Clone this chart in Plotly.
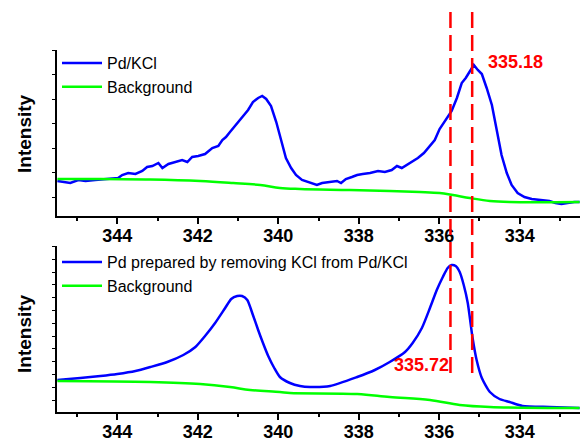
import plotly.graph_objects as go

# ---- data (binding energy in eV, intensity in arbitrary units) ----
be_top = [345.49, 345.29, 345.17, 344.97, 344.79, 344.55, 344.30, 344.12, 343.98, 343.88,
          343.73, 343.55, 343.38, 343.26, 343.13, 342.98, 342.88, 342.73, 342.56, 342.39,
          342.26, 342.14, 341.99, 341.82, 341.64, 341.49, 341.39, 341.30, 341.20, 341.05,
          340.90, 340.75, 340.63, 340.50, 340.40, 340.30, 340.18, 340.05, 339.93, 339.81,
          339.68, 339.56, 339.41, 339.21, 339.04, 338.91, 338.71, 338.54, 338.44, 338.32,
          338.17, 338.04, 337.90, 337.72, 337.52, 337.35, 337.18, 337.05, 336.93, 336.80,
          336.65, 336.53, 336.38, 336.23, 336.11, 335.99, 335.84, 335.69, 335.56, 335.44,
          335.34, 335.24, 335.14, 335.04, 334.94, 334.82, 334.69, 334.57, 334.45, 334.32,
          334.20, 334.05, 333.88, 333.70, 333.50, 333.26, 333.11, 332.96, 332.81, 332.64, 332.51]
int_top = [35, 34, 33, 36, 35, 36, 37, 38, 38, 41,
           43, 42, 45, 49, 50, 53, 48, 52, 54, 56,
           54, 59, 60, 62, 68, 70, 76, 79, 84, 91,
           99, 106, 114, 118, 120, 117, 110, 94, 76, 58,
           48, 41, 36, 33, 31, 33, 34, 35, 33, 37,
           39, 41, 42, 43, 45, 44, 46, 50, 48, 51,
           55, 58, 63, 70, 76, 87, 96, 105, 118, 133,
           138, 145, 151, 146, 142, 128, 111, 86, 61, 43,
           31, 23, 19, 17, 16, 15, 13, 12, 13, 14, 14]

be_top_bg = [345.49, 344.42, 343.18, 341.94, 341.12, 340.45, 339.96, 339.46, 338.22,
             337.23, 336.48, 335.99, 335.66, 335.24, 334.74, 334.25, 332.51]
int_top_bg = [37, 37, 36.5, 35, 33, 31, 28, 27, 26, 25, 24, 23, 21, 18, 15, 14, 14]

be_bot = [345.49, 344.92, 344.42, 344.00, 343.55, 343.18, 342.76, 342.36, 342.06, 341.82,
          341.57, 341.32, 341.17, 341.02, 340.90, 340.77, 340.63, 340.50, 340.38, 340.25,
          340.10, 339.96, 339.71, 339.46, 339.21, 338.71, 338.04, 337.60, 337.23, 336.85,
          336.66, 336.43, 336.23, 336.06, 335.91, 335.79, 335.69, 335.59, 335.49, 335.39,
          335.29, 335.17, 335.07, 334.94, 334.74, 334.50, 334.25, 333.93, 333.26, 332.51]
int_bot = [32, 34, 36, 38, 41, 45, 50, 57, 65, 76,
           89, 104, 113, 116, 116, 112, 97, 82, 69, 56,
           44, 35, 29, 26, 25, 26, 35, 42, 50, 60,
           69, 84, 104, 122, 135, 144, 147, 146, 140, 127,
           109, 74, 52, 34, 20, 13, 10, 6, 5, 4]

be_bot_bg = [345.49, 343.18, 341.94, 341.20, 340.70, 339.96, 339.71, 338.04, 337.23,
             336.23, 335.49, 334.74, 332.51]
int_bot_bg = [31, 30, 28, 25, 22, 20, 19, 18, 15, 12, 7, 5, 4]

x_ticks = [344, 342, 340, 338, 336, 334]
peak_top = 335.18
peak_bot = 335.72
peak_labels = ["335.18", "335.72"]
legend_top = ["Pd/KCl", "Background"]
legend_bot = ["Pd prepared by removing KCl from Pd/KCl", "Background"]

# ---- layout geometry ----
W, H = 581, 441
ML, MR, MT, MB = 57, 1, 50, 29
PH = H - MT - MB  # 362


def py2paper(py):
    return (H - MB - py) / PH


BLUE = "#0000FF"
GREEN = "#00FF00"
RED = "#FF0000"
FONT = "Arial, Liberation Sans, sans-serif"

fig = go.Figure()
fig.add_trace(go.Scatter(x=be_top, y=int_top, mode="lines", name=legend_top[0],
                         line=dict(color=BLUE, width=2.5), xaxis="x", yaxis="y", legend="legend"))
fig.add_trace(go.Scatter(x=be_top_bg, y=int_top_bg, mode="lines", name=legend_top[1],
                         line=dict(color=GREEN, width=2.5, shape="spline"), xaxis="x", yaxis="y", legend="legend"))
fig.add_trace(go.Scatter(x=be_bot, y=int_bot, mode="lines", name=legend_bot[0],
                         line=dict(color=BLUE, width=2.5, shape="spline", smoothing=0.6),
                         xaxis="x2", yaxis="y2", legend="legend2"))
fig.add_trace(go.Scatter(x=be_bot_bg, y=int_bot_bg, mode="lines", name=legend_bot[1],
                         line=dict(color=GREEN, width=2.5, shape="spline"), xaxis="x2", yaxis="y2", legend="legend2"))

xcommon = dict(range=[345.5, 332.5], tickvals=x_ticks, ticks="outside", ticklen=6, tickwidth=1.5,
               tickcolor="black", showline=True, linewidth=2, linecolor="black", showgrid=False,
               zeroline=False, automargin=False, ticklabelstandoff=-4,
               tickfont=dict(family=FONT, size=18, color="black", weight="bold"),
               minor=dict(dtick=1, tick0=333, ticks="outside", ticklen=3, tickwidth=1.5, tickcolor="black"))
ycommon = dict(range=[0, 166], ticks="outside", ticklen=3, tickwidth=1, tickcolor="black",
               showline=True, linewidth=2, linecolor="black", showgrid=False, zeroline=False,
               showticklabels=False, automargin=False)

fig.update_layout(
    width=W, height=H,
    margin=dict(l=ML, r=MR, t=MT, b=MB),
    paper_bgcolor="white", plot_bgcolor="white",
    xaxis=dict(domain=[0, 1], anchor="y", **xcommon),
    yaxis=dict(domain=[py2paper(216), 1], anchor="x", tick0=19, dtick=24.5, **ycommon),
    xaxis2=dict(domain=[0, 1], anchor="y2", **xcommon),
    yaxis2=dict(domain=[0, py2paper(246)], anchor="x2", tick0=12, dtick=12.78, **ycommon),
    legend=dict(x=0.0, y=py2paper(46), xanchor="left", yanchor="top", bgcolor="rgba(0,0,0,0)",
                font=dict(family=FONT, size=16, color="black"), itemwidth=40,
                tracegroupgap=0),
    legend2=dict(x=0.0, y=py2paper(245), xanchor="left", yanchor="top", bgcolor="rgba(0,0,0,0)",
                 font=dict(family=FONT, size=16, color="black"), itemwidth=40,
                 tracegroupgap=0),
    showlegend=True,
)

for xv in [peak_bot, peak_top]:
    fig.add_shape(type="line", xref="x", yref="paper", x0=xv, x1=xv,
                  y0=py2paper(12), y1=py2paper(378),
                  line=dict(color=RED, width=2.5, dash="16px,7px"))

fig.add_annotation(x=334.84, y=py2paper(62), xref="x", yref="paper", text=peak_labels[0],
                   showarrow=False, xanchor="left", yanchor="middle",
                   font=dict(family=FONT, size=18, color=RED, weight="bold"))
fig.add_annotation(x=335.71, y=py2paper(365), xref="x", yref="paper", text=peak_labels[1],
                   showarrow=False, xanchor="right", yanchor="middle",
                   font=dict(family=FONT, size=18, color=RED, weight="bold"))

for yc in [134, 334]:
    fig.add_annotation(x=(24 - ML) / (W - ML - MR), y=py2paper(yc), xref="paper", yref="paper",
                       text="Intensity", textangle=-90, showarrow=False,
                       xanchor="center", yanchor="middle",
                       font=dict(family=FONT, size=19, color="black", weight="bold"))

fig.write_html("out.html", config={"displayModeBar": False},
               post_script="document.body.style.margin='0';")
